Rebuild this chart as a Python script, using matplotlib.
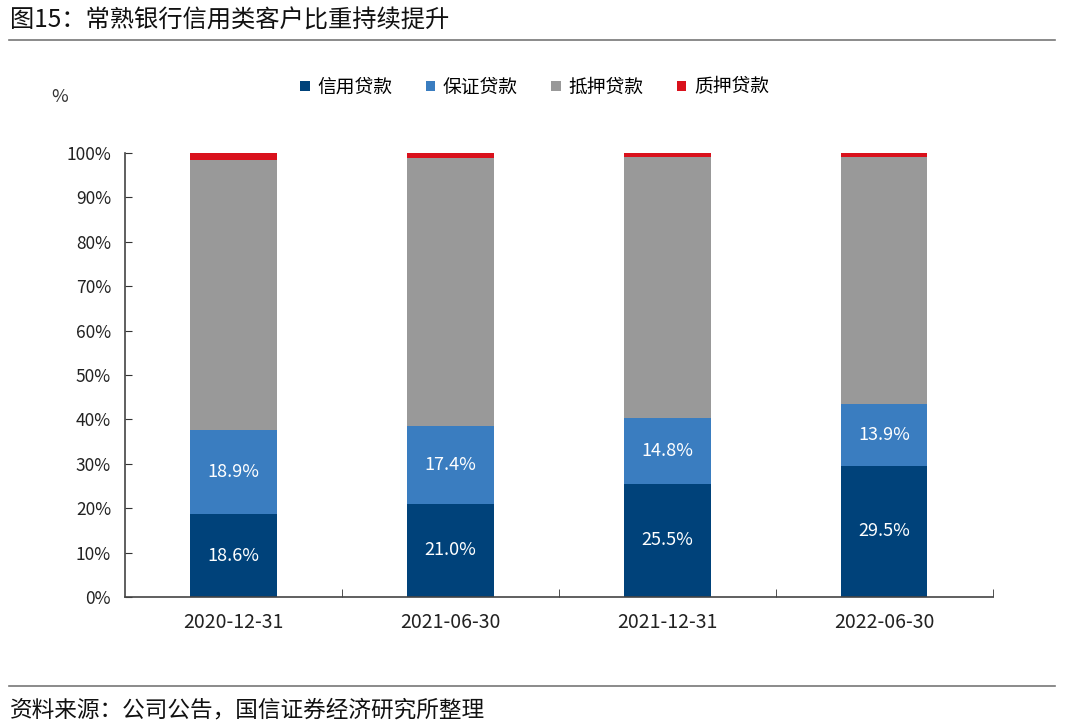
import numpy as np
import matplotlib.pyplot as plt

plt.rcParams['font.family'] = ['Noto Sans CJK SC', 'DejaVu Sans']

dates = ['2020-12-31', '2021-06-30', '2021-12-31', '2022-06-30']
credit = [18.6, 21.0, 25.5, 29.5]
guarantee = [18.9, 17.4, 14.8, 13.9]
pledge = [1.5, 1.2, 0.9, 0.9]
mortgage = [100 - a - b - c for a, b, c in zip(credit, guarantee, pledge)]

names = ['信用贷款', '保证贷款', '抵押贷款', '质押贷款']
colors = ['#00427a', '#3a7dc0', '#999999', '#d9111c']

fig = plt.figure(figsize=(10.8, 7.26), dpi=100)
ax = fig.add_axes([0.1157, 0.1777, 0.8033, 0.6116])

x = np.arange(len(dates))
w = 0.4
bottom = np.zeros(len(dates))
series = [credit, guarantee, mortgage, pledge]
for vals, nm, col in zip(series, names, colors):
    ax.bar(x, vals, w, bottom=bottom, color=col, label=nm, zorder=2)
    bottom += np.array(vals)

# labels for credit and guarantee
for i in range(len(dates)):
    ax.text(x[i], credit[i] / 2, '%.1f%%' % credit[i], ha='center', va='center',
            color='white', fontsize=13)
    ax.text(x[i], credit[i] + guarantee[i] / 2, '%.1f%%' % guarantee[i],
            ha='center', va='center', color='white', fontsize=13)

ax.set_xlim(-0.5, 3.5)
ax.set_ylim(0, 100)
ax.set_yticks(np.arange(0, 101, 10))
ax.set_yticklabels(['%d%%' % v for v in range(0, 101, 10)])
ax.set_xticks(x)
ax.set_xticklabels(dates)
ax.set_xticks([0.5, 1.5, 2.5, 3.5], minor=True)
ax.tick_params(axis='x', which='major', length=0, pad=11, labelsize=14, colors='#222222')
ax.tick_params(axis='x', which='minor', direction='in', length=6, color='#333333')
ax.tick_params(axis='y', direction='in', length=5, pad=10, labelsize=12.5, colors='#222222')
ax.tick_params(axis='y', color='#333333')
for s in ['top', 'right']:
    ax.spines[s].set_visible(False)
for s in ['left', 'bottom']:
    ax.spines[s].set_color('#444444')
    ax.spines[s].set_linewidth(1.2)

leg = fig.legend(loc='center', bbox_to_anchor=(0.495, 0.88), ncol=4, frameon=False,
                 fontsize=13.5, handlelength=0.5, handleheight=0.5, handletextpad=0.4,
                 columnspacing=1.8)

fig.text(0.047, 0.866, '%', fontsize=13, color='#333333', ha='left', va='center')

fig.text(0.009, 0.972, '图15：常熟银行信用类客户比重持续提升', fontsize=17.5,
         ha='left', va='center', color='#111111')
fig.add_artist(plt.Line2D([0.008, 0.977], [0.945, 0.945], color='#777777', lw=1.2))
fig.add_artist(plt.Line2D([0.008, 0.977], [0.055, 0.055], color='#777777', lw=1.2))
fig.text(0.009, 0.022, '资料来源：公司公告，国信证券经济研究所整理', fontsize=16.3,
         ha='left', va='center', color='#111111')

fig.savefig('out.png', dpi=100)
